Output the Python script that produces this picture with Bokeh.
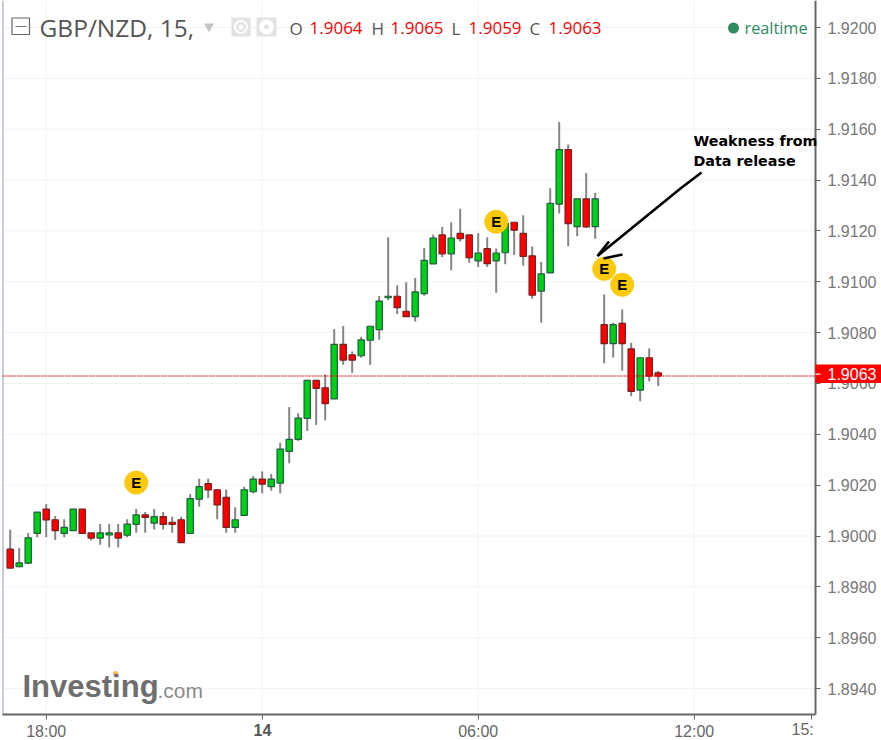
from bokeh.plotting import figure
from bokeh.models import Label, FixedTicker, BoxAnnotation, ColumnDataSource, Range1d, LinearAxis
from bokeh.embed import file_html
from bokeh.resources import INLINE

opens = [1.89948,1.89879,1.89893,1.90010,1.90106,1.90064,1.90010,1.90021,1.90106,1.90012,
         1.89992,1.90004,1.90012,1.90003,1.90046,1.90083,1.90051,1.90076,1.90054,1.90064,
         1.90010,1.90145,1.90206,1.90182,1.90152,1.90034,1.90081,1.90174,1.90224,1.90194,
         1.90208,1.90333,1.90380,1.90463,1.90612,1.90583,1.90539,1.90754,1.90712,1.90709,
         1.90770,1.90812,1.90937,1.90943,1.90884,1.90863,1.90953,1.91070,1.91184,1.91110,
         1.91190,1.91184,1.91082,1.91130,1.91082,1.91114,1.91234,1.91190,1.91102,1.90963,
         1.91035,1.91305,1.91520,1.91217,1.91326,1.91217,1.90831,1.90757,1.90836,1.90736,
         1.90574,1.90701,1.90642]
closes = [1.89874,1.89894,1.89993,1.90094,1.90063,1.90021,1.90034,1.90106,1.90010,1.89992,
          1.90012,1.90012,1.89992,1.90047,1.90083,1.90073,1.90076,1.90046,1.90046,1.89974,
          1.90147,1.90194,1.90181,1.90122,1.90034,1.90064,1.90182,1.90224,1.90204,1.90224,
          1.90342,1.90380,1.90464,1.90612,1.90581,1.90521,1.90754,1.90692,1.90692,1.90771,
          1.90825,1.90924,1.90943,1.90898,1.90863,1.90960,1.91084,1.91172,1.91110,1.91172,
          1.91170,1.91095,1.91113,1.91071,1.91113,1.91230,1.91203,1.91100,1.90947,1.91031,
          1.91308,1.91520,1.91229,1.91326,1.91216,1.91326,1.90757,1.90831,1.90757,1.90569,
          1.90701,1.90629,1.90629]
highs = [1.90025,1.89953,1.90012,1.90094,1.90126,1.90079,1.90066,1.90106,1.90106,1.90012,
         1.90047,1.90047,1.90047,1.90066,1.90106,1.90094,1.90106,1.90094,1.90076,1.90076,
         1.90165,1.90225,1.90225,1.90183,1.90183,1.90113,1.90194,1.90236,1.90254,1.90244,
         1.90367,1.90507,1.90483,1.90612,1.90612,1.90636,1.90814,1.90826,1.90726,1.90784,
         1.90825,1.90944,1.91175,1.90986,1.90998,1.91015,1.91133,1.91186,1.91215,1.91234,
         1.91287,1.91184,1.91192,1.91175,1.91131,1.91230,1.91234,1.91262,1.91139,1.91078,
         1.91368,1.91628,1.91540,1.91326,1.91428,1.91350,1.90950,1.90839,1.90891,1.90760,
         1.90701,1.90738,1.90649]
lows = [1.89874,1.89877,1.89890,1.89995,1.89995,1.89984,1.89995,1.90021,1.90010,1.89982,
        1.89966,1.89955,1.89955,1.89995,1.90013,1.90013,1.90026,1.90026,1.90013,1.89974,
        1.90010,1.90115,1.90149,1.90066,1.90013,1.90013,1.90081,1.90168,1.90168,1.90178,
        1.90168,1.90286,1.90374,1.90413,1.90437,1.90455,1.90539,1.90673,1.90642,1.90701,
        1.90673,1.90772,1.90927,1.90873,1.90863,1.90843,1.90945,1.91070,1.91097,1.91045,
        1.91158,1.91075,1.91058,1.91058,1.90957,1.91069,1.91105,1.91063,1.90934,1.90839,
        1.91035,1.91268,1.91140,1.91179,1.91211,1.91169,1.90679,1.90702,1.90650,1.90550,
        1.90530,1.90608,1.90590]

event_idx = [14, 54, 66, 68]
event_price = [1.90210, 1.91236, 1.91051, 1.90988]
y_ticks = [1.894, 1.896, 1.898, 1.900, 1.902, 1.904, 1.906, 1.908, 1.910, 1.912, 1.914, 1.916, 1.918, 1.920]
x_ticks = [4, 28, 52, 76, 89]
x_tick_labels = ["18:00", "14", "06:00", "12:00", "15:"]

W, H = 881, 740
L_PX, R_PX, T_PX, B_PX = 2, 815, 0, 714


def xd(px):
    return (px - 9.7) / 9.0


def yd(py):
    return 1.92 - (py - 27.0) * 0.002 / 50.85


p = figure(width=W, height=H, output_backend="svg", toolbar_location=None,
           x_range=Range1d(xd(0), xd(W)), y_range=Range1d(yd(H), yd(0)),
           x_axis_location=None, y_axis_location=None,
           min_border_left=0, min_border_right=0, min_border_top=0, min_border_bottom=0)
p.outline_line_color = None
p.background_fill_color = "white"
p.border_fill_color = "white"
p.grid.visible = False

ax = LinearAxis(fixed_location=yd(B_PX), bounds=(xd(L_PX), xd(R_PX)))
ax.ticker = FixedTicker(ticks=x_ticks)
ax.major_label_overrides = {4: "18:00", 28: " ", 52: "06:00", 76: "12:00", 89: " "}
ax.major_label_text_font = "Liberation Sans"
ax.major_label_text_font_size = "16px"
ax.major_label_text_color = "#666666"
ax.major_label_standoff = 3
ax.major_tick_in = 0
ax.major_tick_out = 5
ax.minor_tick_line_color = None
ax.axis_line_color = "#666666"
ax.axis_line_width = 2
ax.major_tick_line_color = "#666666"
p.add_layout(ax, "below")

ay = LinearAxis(fixed_location=xd(R_PX), bounds=(yd(B_PX), yd(T_PX)))
ay.ticker = FixedTicker(ticks=y_ticks)
ay.major_label_overrides = {t: f"{t:.4f}" for t in y_ticks}
ay.major_label_text_font = "Liberation Sans"
ay.major_label_text_font_size = "16px"
ay.major_label_text_color = "#777777"
ay.major_label_standoff = 7
ay.major_tick_in = 0
ay.major_tick_out = 5
ay.minor_tick_line_color = None
ay.axis_line_color = "#666666"
ay.axis_line_width = 2
ay.major_tick_line_color = "#666666"
p.add_layout(ay, "right")

# grid lines stop at the axes
p.segment(x_ticks, [yd(B_PX)] * len(x_ticks), x_ticks, [yd(T_PX)] * len(x_ticks), line_color="#f2f2f2", line_width=1)
p.segment([xd(L_PX)] * len(y_ticks), y_ticks, [xd(R_PX)] * len(y_ticks), y_ticks, line_color="#f2f2f2", line_width=1)
p.segment([xd(2.5)], [yd(B_PX)], [xd(2.5)], [yd(T_PX)], line_color="#c9cdd9", line_width=2)

idx = list(range(len(opens)))
up = [c >= o for o, c in zip(opens, closes)]
src = ColumnDataSource(dict(
    x=idx, o=opens, c=closes, h=highs, l=lows,
    fill=["#00d016" if u else "#ff0000" for u in up],
    edge=["#1e5f3c" if u else "#7a1c1c" for u in up],
))
p.segment("x", "h", "x", "l", source=src, line_color="#858585", line_width=2)
p.vbar("x", 0.7, "o", "c", source=src, fill_color="fill", line_color="edge", line_width=1.2)

# last price line
last = closes[-1]
p.segment([xd(L_PX)], [yd(375.5)], [xd(R_PX)], [yd(375.5)], line_color="#ff0000", line_width=1, line_dash="2 1")


def lab(text, px, py, size, color="#555555", font="Liberation Sans", style="normal", align="left"):
    p.add_layout(Label(x=xd(px), y=yd(py), text=text, text_font=font, text_font_size=f"{size}px",
                       text_color=color, text_font_style=style, text_align=align,
                       text_baseline="middle"))


# event markers
p.scatter(event_idx, event_price, size=23, marker="circle", fill_color="#fcc90c", line_color="#fcc90c")
for i, v in zip(event_idx, event_price):
    p.add_layout(Label(x=i, y=v, text="E", text_font="Liberation Sans", text_font_size="15px",
                       text_font_style="bold", text_color="black", text_align="center",
                       text_baseline="middle"))

# hand-drawn arrow
p.line([xd(701), xd(680), xd(597)], [yd(172), yd(188), yd(255.5)], line_color="black", line_width=2.6)
p.line([xd(597), xd(608.5)], [yd(255.5), yd(241)], line_color="black", line_width=2.6)
p.line([xd(603), xd(622)], [yd(258), yd(254)], line_color="black", line_width=2.6)
lab("Weakness from", 693, 140, 14.3, color="black", font="DejaVu Sans", style="bold")
lab("Data release", 693, 160, 14.3, color="black", font="DejaVu Sans", style="bold")

# header
p.quad(left=[xd(11.5)], right=[xd(29)], top=[yd(17.5)], bottom=[yd(34)], fill_color="white", line_color="#666666", line_width=1.2)
p.line([xd(15), xd(26)], [yd(26), yd(26)], line_color="#777777", line_width=1.2)
lab("GBP/NZD, 15,", 39, 27, 24.5, color="#555555", font="Open Sans")
p.scatter([xd(208.5)], [yd(26)], marker="inverted_triangle", size=10, fill_color="#c4c4c4", line_color=None)
p.quad(left=[xd(231), xd(256)], right=[xd(250), xd(276)], top=[yd(17)]*2, bottom=[yd(36)]*2, fill_color="#e2e2e2", line_color=None)
p.scatter([xd(240.5), xd(266)], [yd(26.5)]*2, marker="circle", size=[12, 13], fill_color=["#e2e2e2", "white"], line_color="white", line_width=2)
p.scatter([xd(240.5), xd(266)], [yd(26.5)]*2, marker="circle", size=[5, 5], fill_color=["white", "#e2e2e2"], line_color=None)

ohlc = [("O", opens[-1], 289, 309), ("H", highs[-1], 371, 390), ("L", lows[-1], 451, 468), ("C", closes[-1], 529, 548)]
for name, v, x0, x1 in ohlc:
    lab(name, x0, 27.5, 17, color="#555555", font="Open Sans")
    lab(f"{v:.4f}", x1, 27.5, 17, color="#ff0000", font="Open Sans")

p.scatter([xd(733)], [yd(27.5)], marker="circle", size=11, fill_color="#2e8b5e", line_color=None)
lab("realtime", 744, 27, 16.3, color="#2e8b5e", font="Open Sans")

# logo
lab("Investing", 22, 686, 31, color="#6e6e6e", style="bold")
lab(".com", 157, 690, 21, color="#8a8a8a")
p.scatter([xd(115)], [yd(673)], marker="circle", size=5, fill_color="#fdb94e", line_color=None)

# x labels of their own
lab("14", 262, 729, 16, color="#555555", style="bold", align="center")
lab("15:", 791, 729, 16, color="#666666")

# price tag
p.add_layout(BoxAnnotation(left=xd(815), right=xd(881), top=yd(364), bottom=yd(382.5),
                           fill_color="#ff0000", fill_alpha=1, line_color=None, level="annotation"))
p.add_layout(BoxAnnotation(left=xd(815), right=xd(820), top=yd(373), bottom=yd(374.2),
                           fill_color="white", fill_alpha=1, line_color=None, level="annotation"))
lab(f"{last:.4f}", 827, 373.5, 16, color="white")

open("out.html", "w").write(file_html(p, INLINE))
